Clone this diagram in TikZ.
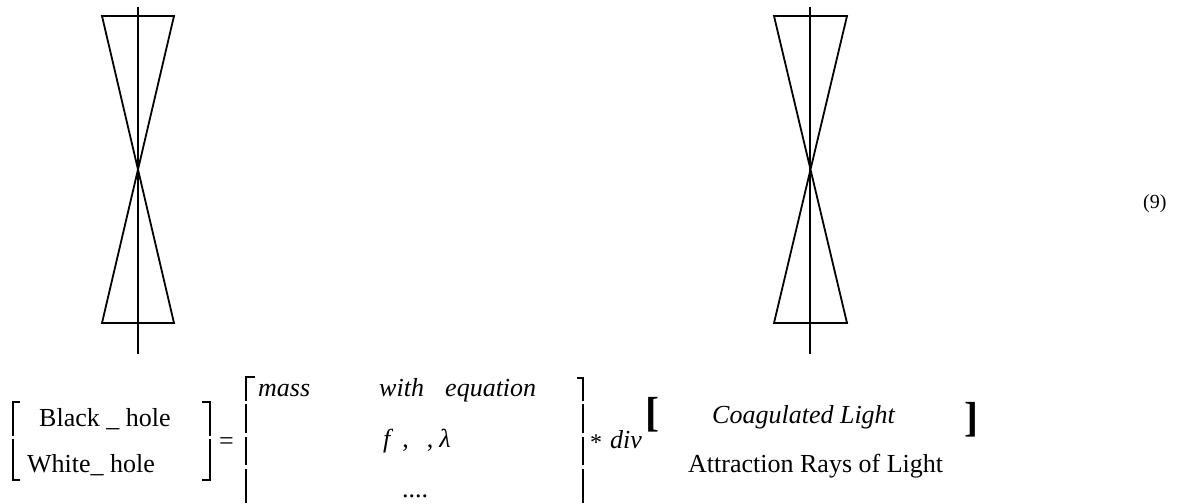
\documentclass[tikz,border=0pt]{standalone}
\usepackage{fontspec}
\setmainfont{Liberation Serif}
\usetikzlibrary{positioning}

\begin{document}
\begin{tikzpicture}[x=1pt, y=-1pt,
    txt/.style={inner sep=0pt, anchor=base west, font=\fontsize{26}{30}\selectfont},
    itxt/.style={txt, font=\fontsize{26}{30}\selectfont\itshape},
    bigtxt/.style={txt, font=\fontsize{42}{44}\selectfont\bfseries},
    glass/.style={line width=1.8pt, line join=miter},
    bar/.style={line width=1.5pt}]
    \useasboundingbox (0,0) rectangle (1182,503);

    % Left hourglass
    \draw[glass] (102,16) -- (174,16) -- (102,323) -- (174,323) -- cycle;
    \draw[glass] (138,7) -- (138,354);

    % Right hourglass
    \draw[glass] (774,16) -- (847,16) -- (774,323) -- (847,323) -- cycle;
    \draw[glass] (810,7) -- (810,354);

    % Equation number
    \node[txt, font=\fontsize{20}{24}\selectfont] (eqnum) at (1143,208) {(9)};

    % First matrix
    \draw[bar] (20,402) -- (13,402) -- (13,436);
    \draw[bar] (13,439) -- (13,480) -- (20,480);
    \draw[bar] (202,402) -- (210,402) -- (210,436);
    \draw[bar] (210,439) -- (210,480) -- (202,480);
    \node[txt] (blackhole) at (39,426) {Black \_ hole};
    \node[txt] (whitehole) at (27,472) {White\_ hole};
    \node[txt] (equals) at (219,449) {=};

    % Second matrix
    \draw[bar] (255,377) -- (246,377) -- (246,401);
    \draw[bar] (246,404) -- (246,433);
    \draw[bar] (246,437) -- (246,465);
    \draw[bar] (246,469) -- (246,503);
    \draw[bar] (577,378) -- (583,378) -- (583,401);
    \draw[bar] (583,404) -- (583,433);
    \draw[bar] (583,437) -- (583,465);
    \draw[bar] (583,469) -- (583,503);
    \node[itxt] (mass) at (258,396) {mass};
    \node[itxt] (with) at (379,396) {with};
    \node[itxt] (equation) at (445,396) {equation};
    \node[txt] (flambda) at (383,447)
        {\textit{f}\hspace{9pt},\hspace{18pt},\hspace{6pt}\textit{λ}};
    \node[txt] (dots) at (402,497) {....};

    % Divergence factor
    \node[txt, font=\fontsize{24}{26}\selectfont] (star) at (590,450) {*};
    \node[itxt] (div) at (610,448) {div};
    \node[bigtxt] (lbrak) at (645,426) {[};
    \node[itxt] (coag) at (712,423) {Coagulated Light};
    \node[txt] (attract) at (688,472) {Attraction Rays of Light};
    \node[bigtxt] (rbrak) at (964,431) {]};
\end{tikzpicture}
\end{document}
